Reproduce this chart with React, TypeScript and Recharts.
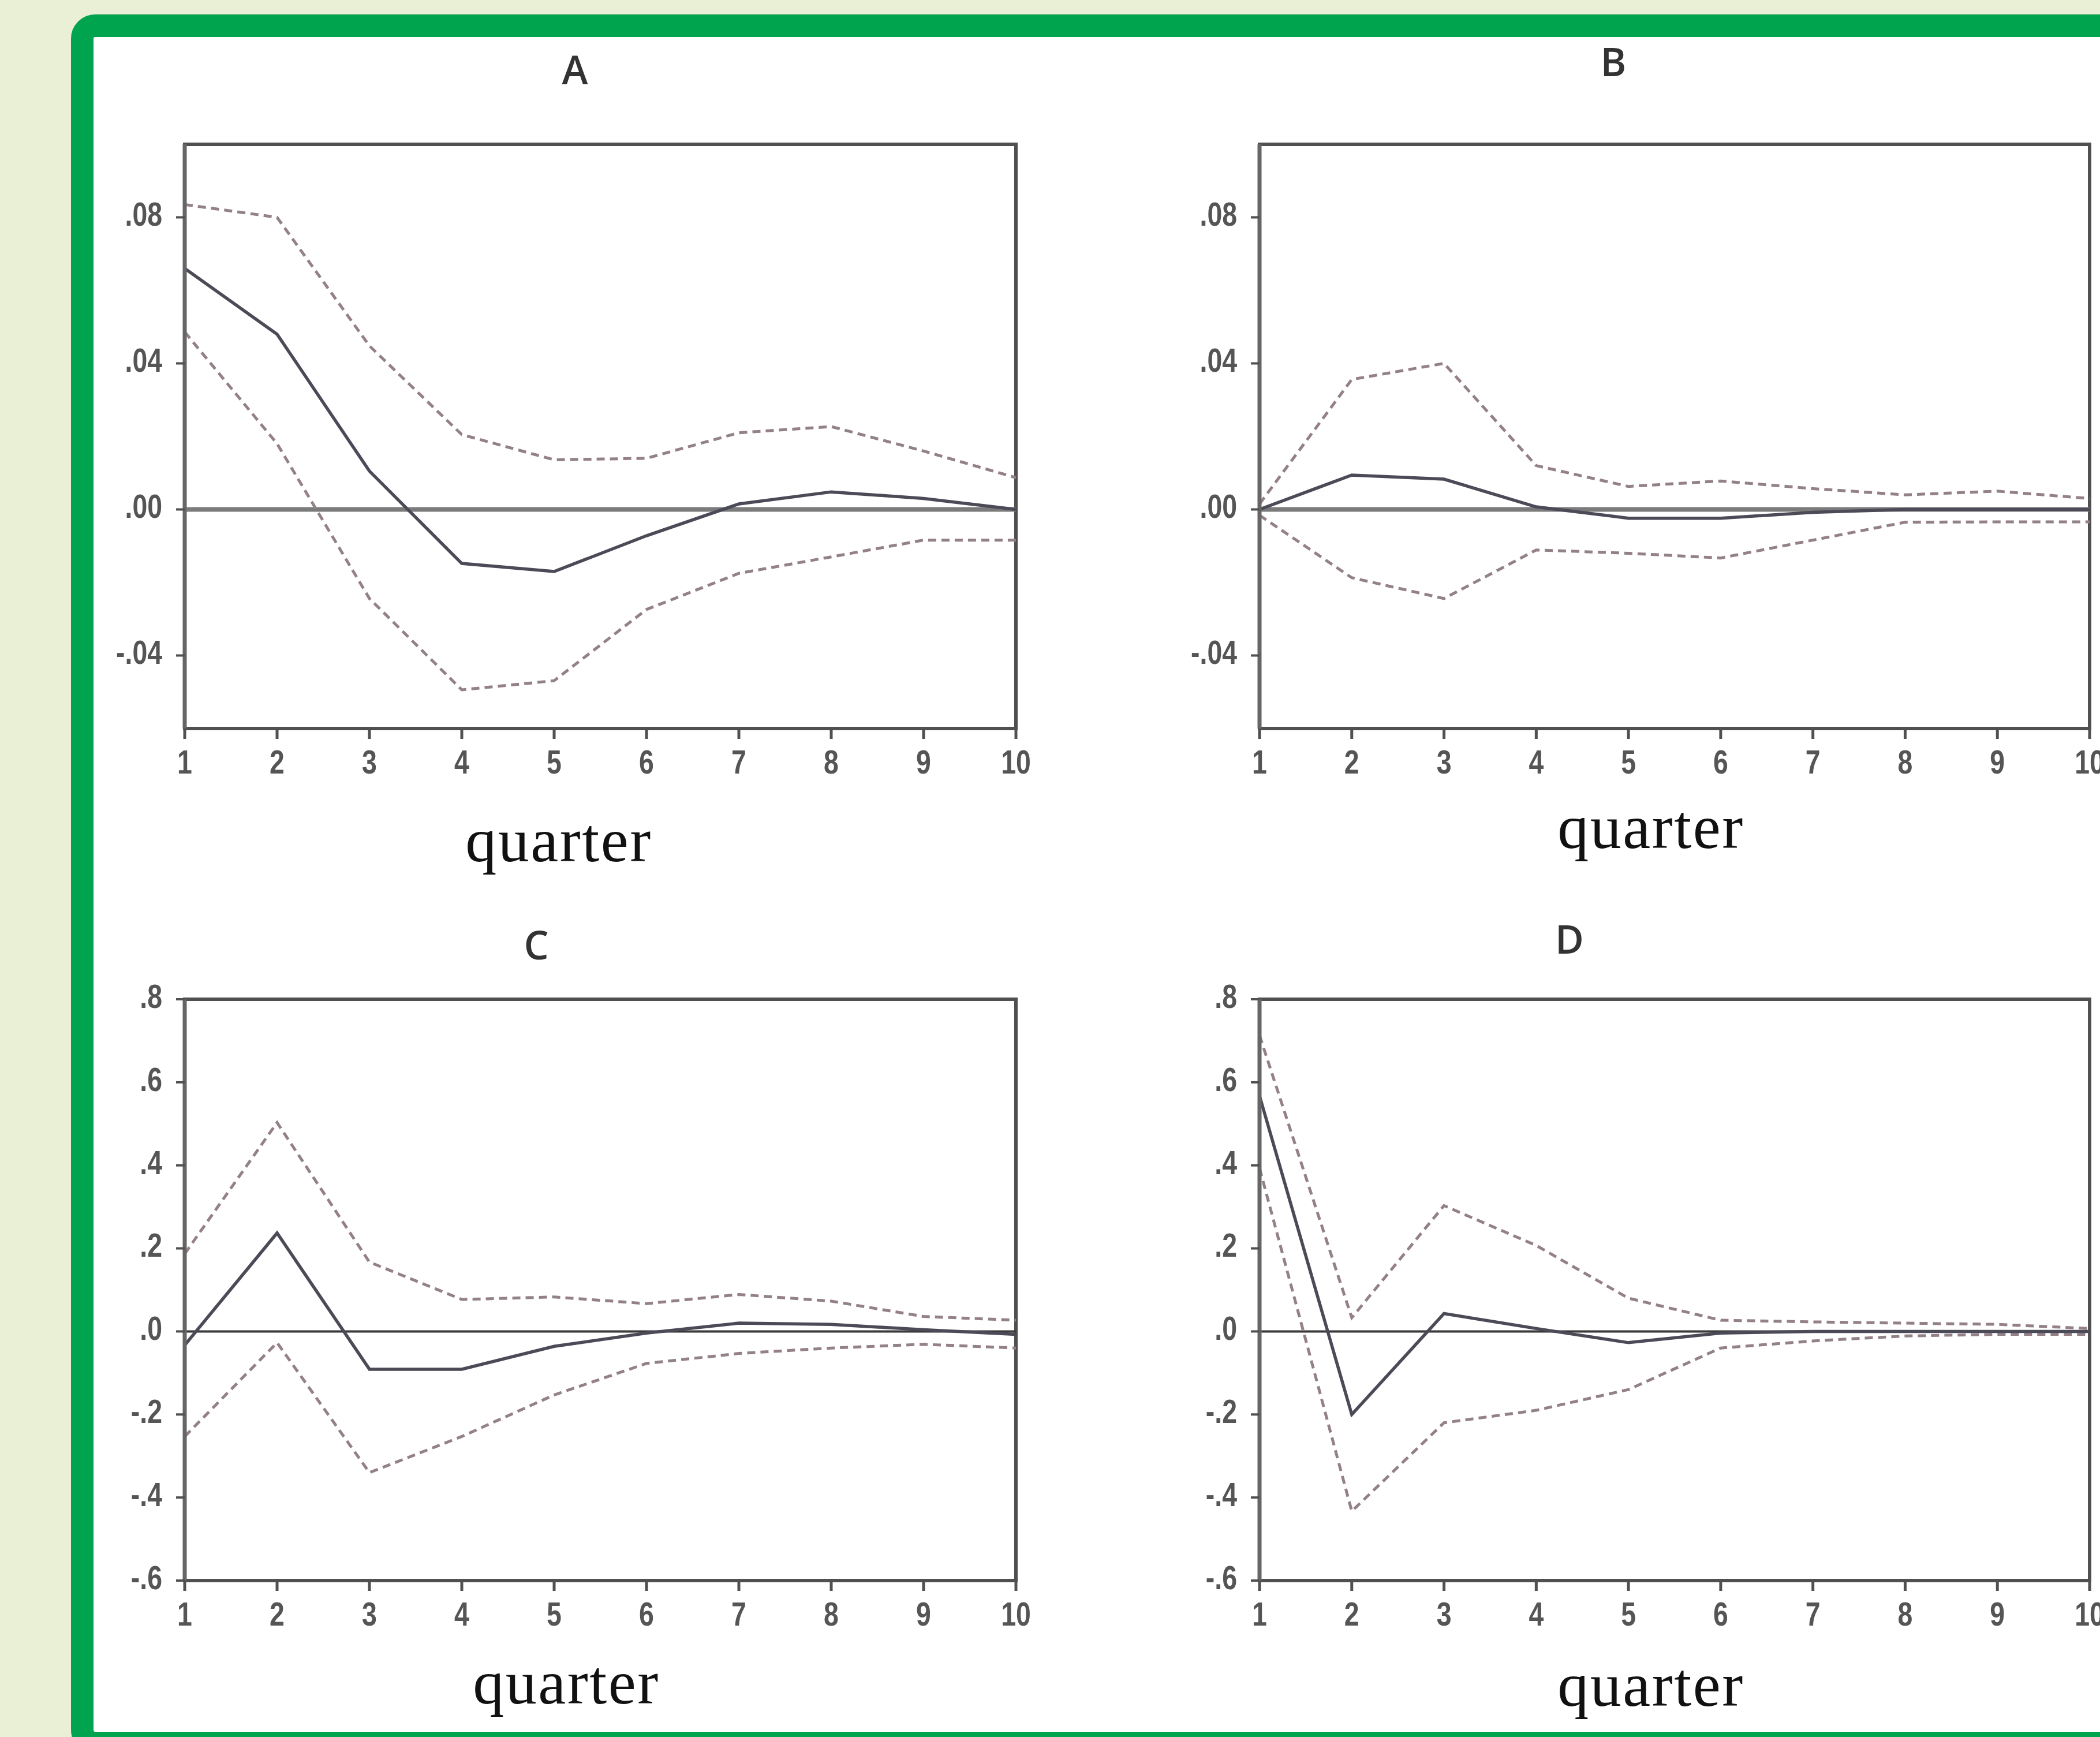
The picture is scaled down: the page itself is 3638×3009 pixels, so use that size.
import React from 'react';
import { LineChart, Line, XAxis, YAxis, ReferenceLine, ReferenceArea } from 'recharts';

// quarters after the shock
const quarters = [1, 2, 3, 4, 5, 6, 7, 8, 9, 10];

// panel A
const aResp = [0.066, 0.048, 0.0105, -0.0148, -0.017, -0.0072, 0.0015, 0.0048, 0.003, 0.0];
const aUpper = [0.0835, 0.08, 0.0448, 0.0205, 0.0136, 0.014, 0.021, 0.0227, 0.016, 0.0087];
const aLower = [0.0486, 0.018, -0.0244, -0.0494, -0.0469, -0.0274, -0.0175, -0.013, -0.0084, -0.0084];

// panel B
const bResp = [0.0, 0.0094, 0.0083, 0.0007, -0.0024, -0.0024, -0.0008, 0.0, 0.0, 0.0];
const bUpper = [0.0015, 0.0356, 0.04, 0.012, 0.0063, 0.0078, 0.0057, 0.004, 0.005, 0.003];
const bLower = [-0.0016, -0.0187, -0.0244, -0.0111, -0.012, -0.0133, -0.0084, -0.0035, -0.0034, -0.0034];

// panel C
const cResp = [-0.033, 0.237, -0.091, -0.091, -0.036, -0.004, 0.02, 0.017, 0.004, -0.007];
const cUpper = [0.187, 0.503, 0.167, 0.077, 0.083, 0.067, 0.089, 0.073, 0.036, 0.027];
const cLower = [-0.253, -0.027, -0.34, -0.253, -0.153, -0.077, -0.053, -0.04, -0.031, -0.04];

// panel D
const dResp = [0.567, -0.2, 0.043, 0.007, -0.027, -0.004, 0.0, 0.0, 0.0, 0.0];
const dUpper = [0.713, 0.033, 0.303, 0.207, 0.08, 0.027, 0.023, 0.02, 0.017, 0.007];
const dLower = [0.393, -0.433, -0.22, -0.19, -0.14, -0.04, -0.023, -0.011, -0.007, -0.007];

// y axis ticks
const smallTicks = [-0.04, 0, 0.04, 0.08];
const bigTicks = [-0.6, -0.4, -0.2, 0, 0.2, 0.4, 0.6, 0.8];
const smallDomain = [-0.06, 0.1];
const bigDomain = [-0.6, 0.8];

const AXIS = '#505050';
const SOLID = '#4b4b58';
const DASH = '#938088';
const TICK_FONT = "'Liberation Sans', Arial, sans-serif";

const Y_W = 160;
const MT = 60;
const MR = 40;
const X_H = 110;

// eviews style labels: .08, -.04, .0
const fmt = (digits: number) => (v: number) => {
  const s = Math.abs(v).toFixed(digits).replace(/^0/, '');
  return v < -1e-9 ? '-' + s : s;
};

const panels = [
  {
    title: 'A', resp: aResp, upper: aUpper, lower: aLower, ticks: smallTicks, domain: smallDomain, format: fmt(2),
    left: 320, right: 1760, top: 250, bottom: 1262, zeroColor: '#7b7b7b', zeroWidth: 8,
    titleX: 996, titleY: 146, qX: 968, qY: 1492,
  },
  {
    title: 'B', resp: bResp, upper: bUpper, lower: bLower, ticks: smallTicks, domain: smallDomain, format: fmt(2),
    left: 2182, right: 3620, top: 250, bottom: 1262, zeroColor: '#7b7b7b', zeroWidth: 8,
    titleX: 2795, titleY: 132, qX: 2860, qY: 1469,
  },
  {
    title: 'C', resp: cResp, upper: cUpper, lower: cLower, ticks: bigTicks, domain: bigDomain, format: fmt(1),
    left: 320, right: 1760, top: 1731, bottom: 2738, zeroColor: '#3a3a3a', zeroWidth: 4,
    titleX: 929, titleY: 1662, qX: 981, qY: 2951,
  },
  {
    title: 'D', resp: dResp, upper: dUpper, lower: dLower, ticks: bigTicks, domain: bigDomain, format: fmt(1),
    left: 2182, right: 3620, top: 1731, bottom: 2738, zeroColor: '#3a3a3a', zeroWidth: 4,
    titleX: 2719, titleY: 1652, qX: 2860, qY: 2955,
  },
];

function YTick({ x, y, payload, format }: any) {
  return (
    <text
      transform={`translate(${x},${y - 6}) scale(0.8,1)`}
      textAnchor="end"
      dy="0.36em"
      fontSize={58}
      fontWeight="bold"
      fill="#555"
      fontFamily={TICK_FONT}
    >
      {format(payload.value)}
    </text>
  );
}

function XTick({ x, y, payload }: any) {
  return (
    <text
      transform={`translate(${x},${y}) scale(0.8,1)`}
      textAnchor="middle"
      dy="0.71em"
      fontSize={58}
      fontWeight="bold"
      fill="#555"
      fontFamily={TICK_FONT}
    >
      {payload.value}
    </text>
  );
}

function Panel({ p }: any) {
  const data = quarters.map((q, i) => ({ q, resp: p.resp[i], upper: p.upper[i], lower: p.lower[i] }));
  const w = Y_W + (p.right - p.left) + MR;
  const h = MT + (p.bottom - p.top) + X_H;

  return (
    <div style={{ position: 'absolute', left: p.left - Y_W, top: p.top - MT }}>
      <LineChart width={w} height={h} data={data} margin={{ top: MT, right: MR, bottom: 0, left: 0 }}>
        <XAxis
          dataKey="q"
          type="number"
          domain={[1, 10]}
          ticks={quarters}
          interval={0}
          height={X_H}
          tickSize={18}
          tickMargin={19}
          axisLine={{ stroke: AXIS, strokeWidth: 6 }}
          tickLine={{ stroke: AXIS, strokeWidth: 5 }}
          tick={(props: any) => <XTick {...props} />}
        />
        <YAxis
          type="number"
          domain={p.domain}
          ticks={p.ticks}
          interval={0}
          width={Y_W}
          tickSize={15}
          tickMargin={24}
          axisLine={{ stroke: '#666', strokeWidth: 7 }}
          tickLine={{ stroke: AXIS, strokeWidth: 4 }}
          tick={(props: any) => <YTick {...props} format={p.format} />}
        />
        <ReferenceArea x1={1} x2={10} y1={p.domain[0]} y2={p.domain[1]} fill="none" stroke={AXIS} strokeWidth={6} />
        <ReferenceLine y={0} stroke={p.zeroColor} strokeWidth={p.zeroWidth} />
        <Line type="linear" dataKey="upper" stroke={DASH} strokeWidth={5} strokeDasharray="14 9" dot={false} isAnimationActive={false} />
        <Line type="linear" dataKey="lower" stroke={DASH} strokeWidth={5} strokeDasharray="14 9" dot={false} isAnimationActive={false} />
        <Line type="linear" dataKey="resp" stroke={SOLID} strokeWidth={5.5} dot={false} isAnimationActive={false} />
      </LineChart>
    </div>
  );
}

export default function App() {
  return (
    <div
      style={{
        position: 'absolute',
        left: 0,
        top: 0,
        width: 3638,
        height: 3009,
        overflow: 'hidden',
        background: '#eaf0d5',
      }}
    >
      {/* green frame, right and bottom edges run off the page */}
      <div
        style={{
          position: 'absolute',
          left: 123,
          top: 25,
          width: 3700,
          height: 3014,
          boxSizing: 'border-box',
          border: '39px solid #00a34e',
          borderRadius: 42,
          background: '#ffffff',
        }}
      />
      {panels.map((p) => (
        <Panel key={p.title} p={p} />
      ))}
      <svg width={3638} height={3009} style={{ position: 'absolute', left: 0, top: 0, pointerEvents: 'none' }}>
        {panels.map((p) => (
          <g key={p.title}>
            <text
              x={p.titleX}
              y={p.titleY}
              textAnchor="middle"
              fontFamily="'Open Sans', sans-serif"
              fontSize={68}
              fontWeight={600}
              fill="#333"
            >
              {p.title}
            </text>
            <text
              x={p.qX}
              y={p.qY}
              textAnchor="middle"
              fontFamily="'Liberation Serif', 'Times New Roman', serif"
              fontSize={108}
              letterSpacing={2.5}
              fill="#111"
            >
              quarter
            </text>
          </g>
        ))}
      </svg>
    </div>
  );
}
